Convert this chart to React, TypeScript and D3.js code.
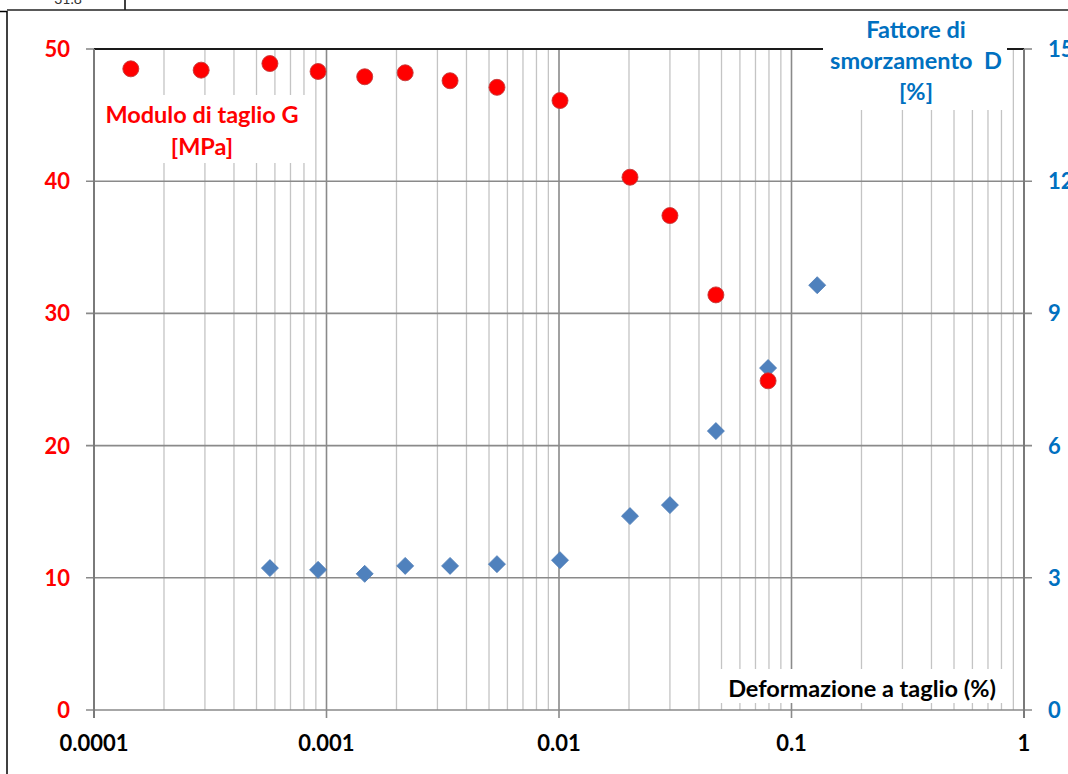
import React from "react";
import * as d3 from "d3";

const strainG = [0.000144, 0.000289, 0.000571, 0.00092, 0.00146, 0.00218, 0.0034, 0.00541, 0.0101, 0.0202, 0.030, 0.0473, 0.0793];
const valuesG = [48.5, 48.4, 48.9, 48.3, 47.9, 48.2, 47.6, 47.1, 46.1, 40.3, 37.4, 31.4, 24.9];
const strainD = [0.000571, 0.00092, 0.00146, 0.00218, 0.0034, 0.00541, 0.0101, 0.0202, 0.030, 0.0473, 0.0793, 0.129];
const valuesD = [3.22, 3.18, 3.09, 3.27, 3.27, 3.31, 3.40, 4.40, 4.65, 6.33, 7.76, 9.64];
const xTicks = [0.0001, 0.001, 0.01, 0.1, 1];
const xTickLabels = ["0.0001", "0.001", "0.01", "0.1", "1"];
const gTicks = [0, 10, 20, 30, 40, 50];
const dTicks = [0, 3, 6, 9, 12, 15];
const labelG = ["Modulo di taglio G", "[MPa]"];
const labelD = ["Fattore di", "smorzamento  D", "[%]"];
const labelX = "Deformazione a taglio (%)";

const FONT = "Lato, 'Open Sans', sans-serif";

export default function App() {
  const L = 94, R = 1024, T = 49, B = 710;
  const x = d3.scaleLog().domain([0.0001, 1]).range([L, R]);
  const yG = d3.scaleLinear().domain([0, 50]).range([B, T]);
  const yD = d3.scaleLinear().domain([0, 15]).range([B, T]);

  const minors: number[] = [];
  for (let e = -4; e < 0; e++) {
    for (let m = 2; m <= 9; m++) minors.push(m * Math.pow(10, e));
  }

  return (
    <svg width={1068} height={774} style={{ position: "absolute", left: 0, top: 0, background: "#fff" }} fontFamily={FONT}>
      {/* outer frame bits */}
      <text x={68} y={4} fontSize={14} textAnchor="middle" fill="#333">31.8</text>
      <line x1={125} x2={125} y1={0} y2={10} stroke="#000" strokeWidth={1.5} />
      <line x1={7} x2={1068} y1={10} y2={10} stroke="#222" strokeWidth={1.5} />
      <line x1={0} x2={7} y1={11.5} y2={11.5} stroke="#000" strokeWidth={1.5} />
      <line x1={7} x2={7} y1={11} y2={774} stroke="#000" strokeWidth={1.5} />

      {/* minor vertical gridlines */}
      {minors.map((v, i) => (
        <line key={"mn" + i} x1={x(v)} x2={x(v)} y1={T} y2={B} stroke="#c4c4c4" strokeWidth={1.3} />
      ))}
      {/* major vertical gridlines */}
      {xTicks.map((v, i) => (
        <line key={"mj" + i} x1={x(v)} x2={x(v)} y1={T} y2={B + 8} stroke="#8a8a8a" strokeWidth={1.6} />
      ))}
      {/* horizontal gridlines */}
      {gTicks.slice(1, 5).map((v, i) => (
        <line key={"h" + i} x1={L - 8} x2={R + 8} y1={yG(v)} y2={yG(v)} stroke="#8a8a8a" strokeWidth={1.6} />
      ))}
      <line x1={L - 8} x2={L} y1={yG(50)} y2={yG(50)} stroke="#8a8a8a" strokeWidth={1.6} />
      <line x1={R} x2={R + 8} y1={yG(50)} y2={yG(50)} stroke="#8a8a8a" strokeWidth={1.6} />
      <line x1={L} x2={R} y1={yG(50)} y2={yG(50)} stroke="#1a1a1a" strokeWidth={1.8} />
      {/* axes */}
      <line x1={L - 8} x2={R + 8} y1={B} y2={B} stroke="#8a8a8a" strokeWidth={1.6} />
      <line x1={L} x2={L} y1={T} y2={B + 8} stroke="#7a7a7a" strokeWidth={2} />
      <line x1={R} x2={R} y1={T} y2={B + 8} stroke="#7a7a7a" strokeWidth={2} />

      {/* label backgrounds */}
      <rect x={100} y={95} width={210} height={68} fill="#fff" />
      <rect x={823} y={14} width={184} height={96} fill="#fff" />
      <rect x={712} y={669} width={296} height={34} fill="#fff" />

      {/* labels */}
      <text x={202} y={123} fontSize={23.5} fontWeight={700} fill="#ff0000" textAnchor="middle">{labelG[0]}</text>
      <text x={202} y={155} fontSize={23.5} fontWeight={700} fill="#ff0000" textAnchor="middle">{labelG[1]}</text>
      {labelD.map((t, i) => (
        <text key={"ld" + i} x={916} y={38 + i * 31} fontSize={23.5} fontWeight={700} fill="#0070c0" textAnchor="middle" style={{ whiteSpace: "pre" }}>{t}</text>
      ))}
      <text x={862} y={697} fontSize={23.5} fontWeight={700} fill="#000" textAnchor="middle">{labelX}</text>

      {/* tick labels */}
      {gTicks.map((v, i) => (
        <text key={"gl" + i} x={70} y={yG(v)} dy="0.36em" fontSize={22} fontWeight={700} fill="#ff0000" textAnchor="end">{v}</text>
      ))}
      {dTicks.map((v, i) => (
        <text key={"dl" + i} x={1048} y={yD(v)} dy="0.36em" fontSize={22} fontWeight={700} fill="#0070c0" textAnchor="start">{v}</text>
      ))}
      {xTicks.map((v, i) => (
        <text key={"xl" + i} x={x(v)} y={751} fontSize={22} fontWeight={700} fill="#000" textAnchor="middle">{xTickLabels[i]}</text>
      ))}

      {/* data */}
      {strainD.map((s, i) => {
        const cx = x(s), cy = yD(valuesD[i]), h = 8.5;
        return (
          <path key={"d" + i} d={`M${cx},${cy - h}L${cx + h},${cy}L${cx},${cy + h}L${cx - h},${cy}Z`} fill="#4f81bd" stroke="#4a7ab5" strokeWidth={0.8} />
        );
      })}
      {strainG.map((s, i) => (
        <circle key={"g" + i} cx={x(s)} cy={yG(valuesG[i])} r={8} fill="#ff0000" stroke="#c43a3a" strokeWidth={0.9} />
      ))}
    </svg>
  );
}
